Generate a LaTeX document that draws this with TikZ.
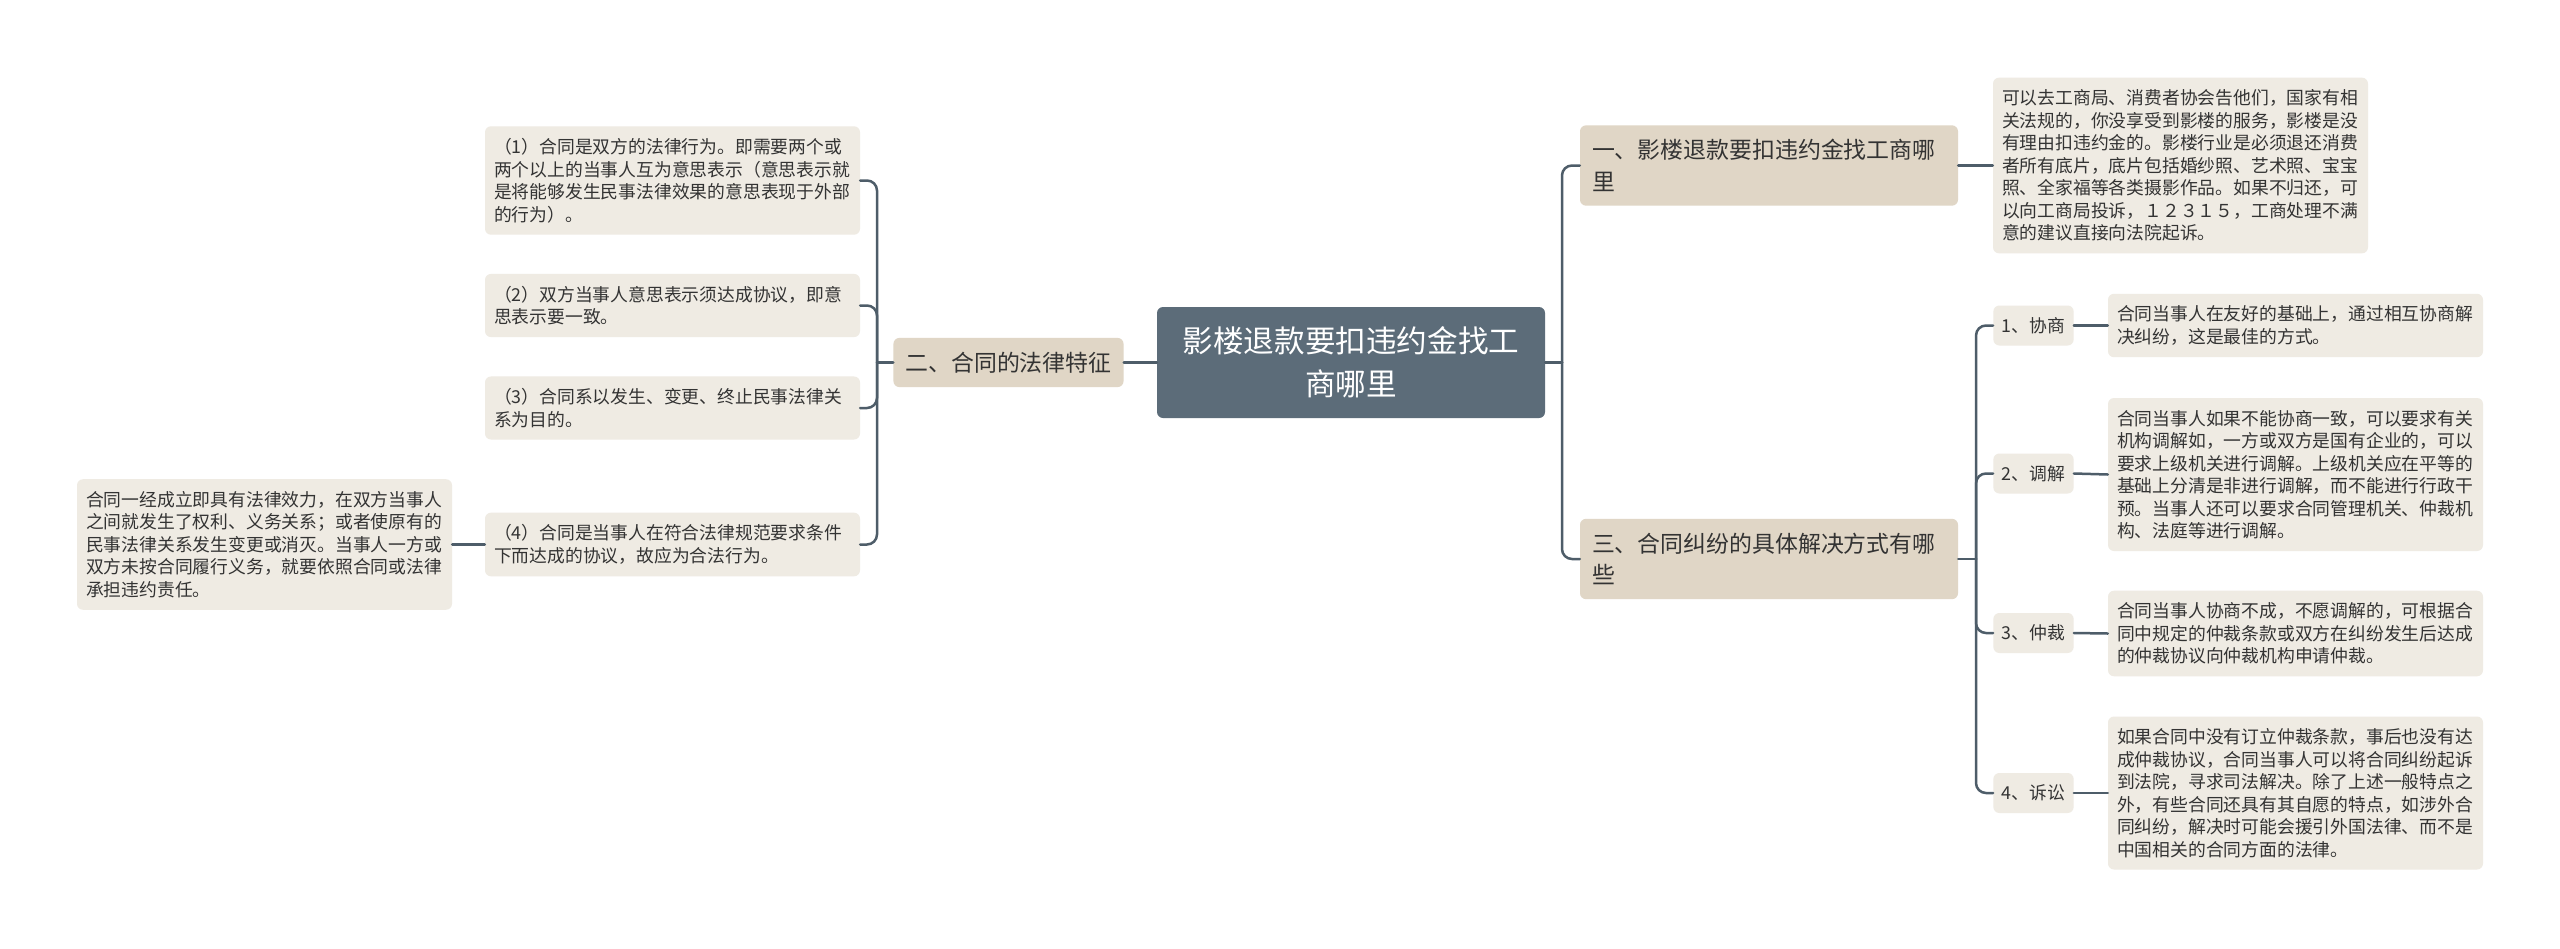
\documentclass[tikz,border=0pt]{standalone}
\usepackage{fontspec}
\setmainfont{Noto Sans CJK SC}
\definecolor{rootc}{HTML}{5C6C79}
\definecolor{branchc}{HTML}{E0D6C6}
\definecolor{leafc}{HTML}{EFEBE3}
\definecolor{linec}{HTML}{4E5D69}
\definecolor{textc}{HTML}{333333}
\begin{document}
\begin{tikzpicture}[x=1pt,y=-1pt,line cap=round,line join=round,
  root/.style={fill=rootc,rounded corners=6pt,text=white,align=center,
    text width=340pt,inner xsep=24pt,minimum height=111pt,
    font=\fontsize{30.6}{43.3}\selectfont},
  branch/.style={fill=branchc,rounded corners=6pt,text=textc,align=left,
    inner xsep=12pt,inner ysep=14pt,font=\fontsize{22.9}{31.7}\selectfont},
  leaf/.style={fill=leafc,rounded corners=6pt,text=textc,align=left,
    text width=357pt,inner xsep=9pt,inner ysep=12pt,
    font=\fontsize{17.8}{22.5}\selectfont},
  tag/.style={fill=leafc,rounded corners=6pt,text=textc,
    inner xsep=8.5pt,minimum height=40pt,font=\fontsize{17.8}{22.5}\selectfont},
  link/.style={line width=2.5pt,draw=linec,rounded corners=10pt}]
  \useasboundingbox[fill=white] (0,0) rectangle (2560,948);
  % 中心
  \node[root] (c) at (1351,362.5) {影楼退款要扣违约金找工\\商哪里};
  % 左侧：二
  \node[branch] (b2) at (1008.5,362.5) {二、合同的法律特征};
  \node[leaf] (l1) at (672.5,180.5) {（1）合同是双方的法律行为。即需要两个或\\两个以上的当事人互为意思表示（意思表示就\\是将能够发生民事法律效果的意思表现于外部\\的行为）。};
  \node[leaf] (l2) at (672.5,305.5) {（2）双方当事人意思表示须达成协议，即意\\思表示要一致。};
  \node[leaf] (l3) at (672.5,408) {（3）合同系以发生、变更、终止民事法律关\\系为目的。};
  \node[leaf] (l4) at (672.5,544.5) {（4）合同是当事人在符合法律规范要求条件\\下而达成的协议，故应为合法行为。};
  \node[leaf] (l5) at (264.5,544.5) {合同一经成立即具有法律效力，在双方当事人\\之间就发生了权利、义务关系；或者使原有的\\民事法律关系发生变更或消灭。当事人一方或\\双方未按合同履行义务，就要依照合同或法律\\承担违约责任。};
  % 右侧：一、三
  \node[branch,text width=354pt] (b1) at (1769,165.5) {一、影楼退款要扣违约金找工商哪\\里};
  \node[branch,text width=354pt] (b3) at (1769,559) {三、合同纠纷的具体解决方式有哪\\些};
  \node[leaf] (r0) at (2180.5,165.5) {可以去工商局、消费者协会告他们，国家有相\\关法规的，你没享受到影楼的服务，影楼是没\\有理由扣违约金的。影楼行业是必须退还消费\\者所有底片，底片包括婚纱照、艺术照、宝宝\\照、全家福等各类摄影作品。如果不归还，可\\以向工商局投诉，１２３１５，工商处理不满\\意的建议直接向法院起诉。};
  \node[tag] (s1) at (2033.5,325.5) {1、协商};
  \node[tag] (s2) at (2033.5,473.5) {2、调解};
  \node[tag] (s3) at (2033.5,633) {3、仲裁};
  \node[tag] (s4) at (2033.5,793) {4、诉讼};
  \node[leaf] (r1) at (2295.5,325.5) {合同当事人在友好的基础上，通过相互协商解\\决纠纷，这是最佳的方式。};
  \node[leaf] (r2) at (2295.5,474.5) {合同当事人如果不能协商一致，可以要求有关\\机构调解如，一方或双方是国有企业的，可以\\要求上级机关进行调解。上级机关应在平等的\\基础上分清是非进行调解，而不能进行行政干\\预。当事人还可以要求合同管理机关、仲裁机\\构、法庭等进行调解。};
  \node[leaf] (r3) at (2295.5,633.5) {合同当事人协商不成，不愿调解的，可根据合\\同中规定的仲裁条款或双方在纠纷发生后达成\\的仲裁协议向仲裁机构申请仲裁。};
  \node[leaf] (r4) at (2295.5,793) {如果合同中没有订立仲裁条款，事后也没有达\\成仲裁协议，合同当事人可以将合同纠纷起诉\\到法院，寻求司法解决。除了上述一般特点之\\外，有些合同还具有其自愿的特点，如涉外合\\同纠纷，解决时可能会援引外国法律、而不是\\中国相关的合同方面的法律。};
  % 连线
  \coordinate (jl) at (877,362.5);
  \coordinate (jr) at (1562,362.5);
  \coordinate (js) at (1976,559);
  \draw[link] (c.west) -- (b2.east);
  \draw[link] (b2.west) -- (jl);
  \foreach \n in {l1,l2,l3,l4} {
    \draw[link] (jl) |- (\n.east);
  }
  \draw[link] (l4.west) -- (l5.east);
  \draw[link] (c.east) -- (jr);
  \draw[link] (jr) |- (b1.west);
  \draw[link] (jr) |- (b3.west);
  \draw[link] (b1.east) -- (r0.west);
  \draw[link] (b3.east) -- (js);
  \foreach \n/\m in {s1/r1,s2/r2,s3/r3,s4/r4} {
    \draw[link] (js) |- (\n.west);
    \draw[link] (\n.east) -- (\m.west);
  }
\end{tikzpicture}
\end{document}
